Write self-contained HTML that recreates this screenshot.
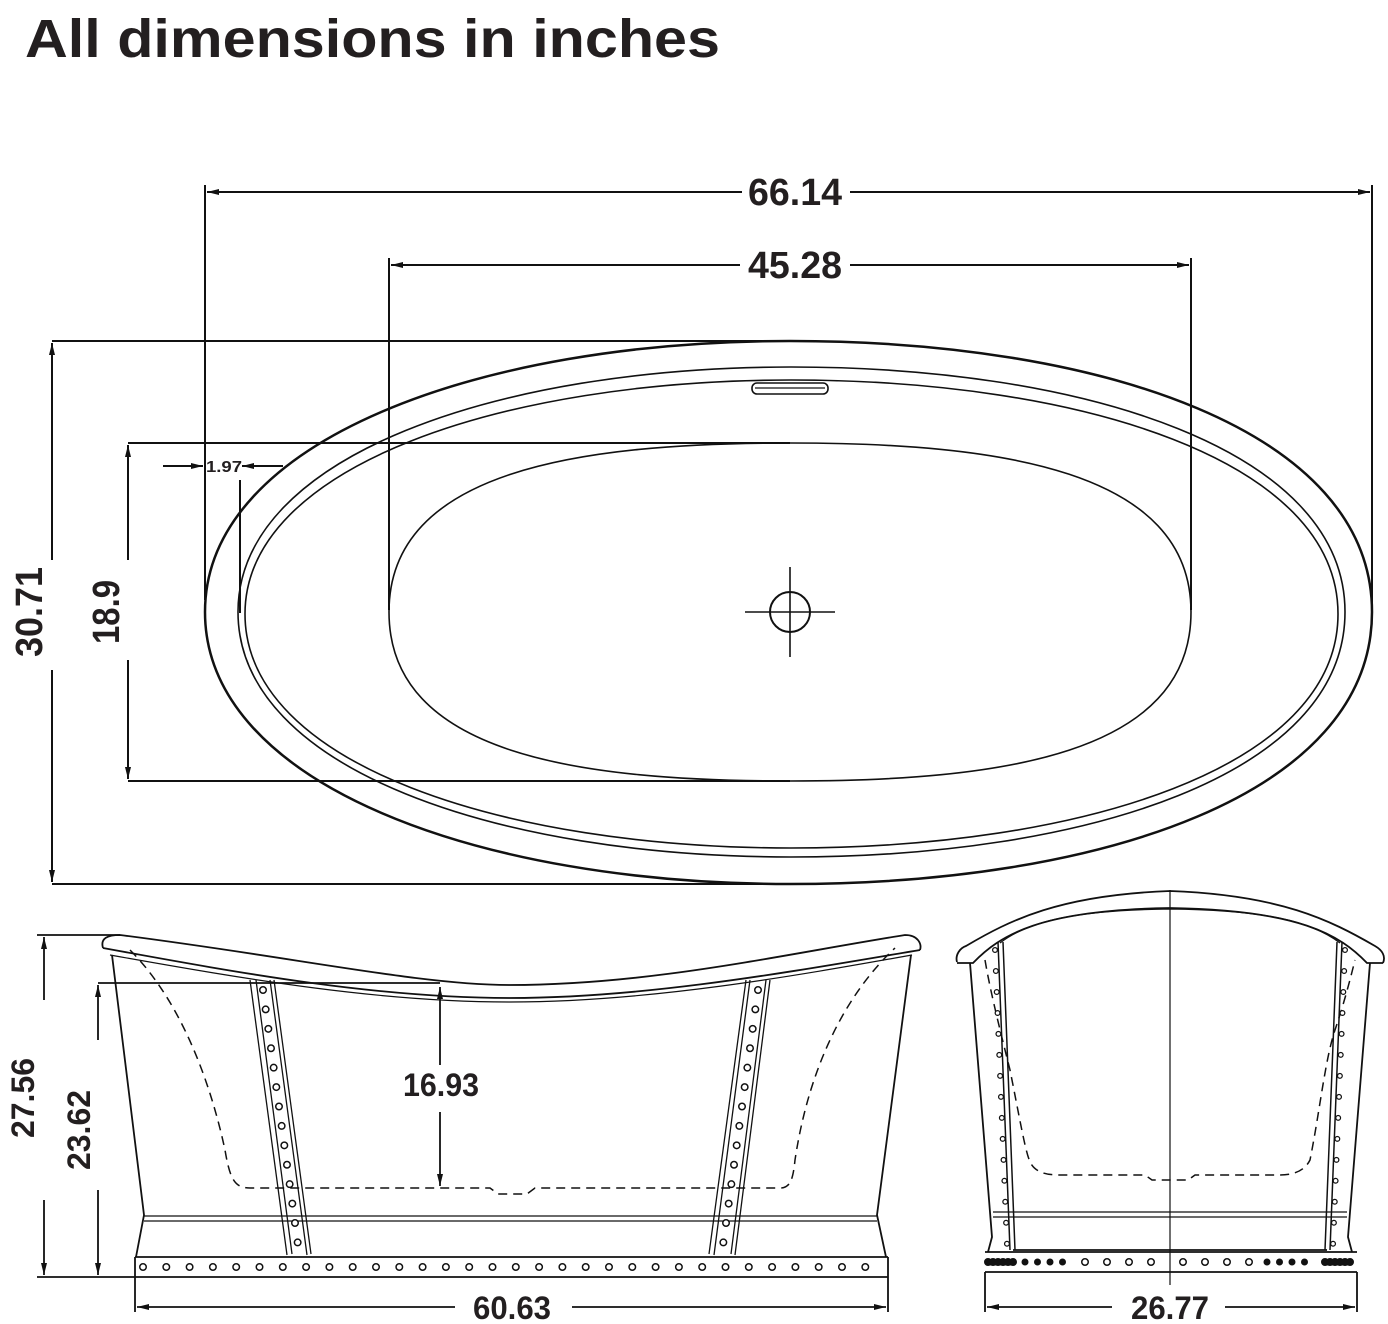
<!DOCTYPE html>
<html><head><meta charset="utf-8"><style>
html,body{margin:0;padding:0;background:#fff;}
svg{display:block;}
text{font-family:"Liberation Sans",sans-serif;font-weight:bold;fill:#231f20;}
</style></head><body>
<svg width="1388" height="1324" viewBox="0 0 1388 1324" xmlns="http://www.w3.org/2000/svg">
<defs>
<marker id="ar" viewBox="0 0 12 6" refX="12" refY="3" markerWidth="12" markerHeight="6" orient="auto" markerUnits="userSpaceOnUse"><path d="M0,0 L12,3 L0,6 z" fill="#111"/></marker>
</defs>
<text x="25" y="57" font-size="54" textLength="695" lengthAdjust="spacingAndGlyphs">All dimensions in inches</text>

<g stroke="#111" fill="none" stroke-width="2">
<line x1="205" y1="185" x2="205" y2="600"/>
<line x1="1372" y1="185" x2="1372" y2="612"/>
<line x1="742" y1="192" x2="207" y2="192" marker-end="url(#ar)"/>
<line x1="850" y1="192" x2="1370" y2="192" marker-end="url(#ar)"/>
<line x1="389" y1="258" x2="389" y2="610"/>
<line x1="1191" y1="258" x2="1191" y2="610"/>
<line x1="740" y1="265" x2="391" y2="265" marker-end="url(#ar)"/>
<line x1="850" y1="265" x2="1189" y2="265" marker-end="url(#ar)"/>
<line x1="52" y1="341" x2="790" y2="341"/>
<line x1="52" y1="884" x2="790" y2="884"/>
<line x1="52" y1="560" x2="52" y2="343" marker-end="url(#ar)"/>
<line x1="52" y1="670" x2="52" y2="882" marker-end="url(#ar)"/>
<line x1="128" y1="443" x2="790" y2="443"/>
<line x1="128" y1="781" x2="790" y2="781"/>
<line x1="128" y1="560" x2="128" y2="445" marker-end="url(#ar)"/>
<line x1="128" y1="660" x2="128" y2="779" marker-end="url(#ar)"/>
<line x1="163" y1="466" x2="203" y2="466" marker-end="url(#ar)"/>
<line x1="283" y1="466" x2="242" y2="466" marker-end="url(#ar)"/>
<line x1="240" y1="480" x2="240" y2="613"/>
<path d="M205,612 C205,440 480,341 790,341 C1100,341 1372,430 1372,612 C1372,795 1100,884 790,884 C480,884 205,785 205,612 Z" stroke-width="2.5"/>
<path d="M238,612 C238,455 500,367 791,367 C1085,367 1345,450 1345,612 C1345,775 1085,857 791,857 C500,857 238,770 238,612 Z" stroke-width="1.6"/>
<path d="M245,614 C245,465 505,380 791,380 C1080,380 1338,460 1338,614 C1338,768 1080,848 791,848 C505,848 245,765 245,614 Z" stroke-width="1.6"/>
<path d="M790,443 C1000,443 1191,470 1191,612 C1191,755 1000,781 790,781 C580,781 389,755 389,612 C389,470 580,443 790,443 Z" stroke-width="1.6"/>
<rect x="752" y="383" width="76" height="11" rx="5" stroke-width="1.6"/>
<line x1="755" y1="388" x2="825" y2="388" stroke-width="1.2"/>
<circle cx="790" cy="612" r="20"/>
<line x1="745" y1="612" x2="835" y2="612" stroke-width="1.6"/>
<line x1="790" y1="567" x2="790" y2="657" stroke-width="1.6"/>
</g>
<g transform="translate(42,612) rotate(-90)"><text x="0" y="0" font-size="38" text-anchor="middle" textLength="90" lengthAdjust="spacingAndGlyphs">30.71</text></g>
<g transform="translate(119,612) rotate(-90)"><text x="0" y="0" font-size="38" text-anchor="middle" textLength="64" lengthAdjust="spacingAndGlyphs">18.9</text></g>
<text x="795" y="205" font-size="38" text-anchor="middle" textLength="94" lengthAdjust="spacingAndGlyphs">66.14</text>
<text x="795" y="278" font-size="38" text-anchor="middle" textLength="94" lengthAdjust="spacingAndGlyphs">45.28</text>
<text x="224" y="472" font-size="16" text-anchor="middle" textLength="36" lengthAdjust="spacingAndGlyphs">1.97</text>

<g stroke="#111" fill="none" stroke-width="1.8">
<path d="M103,948 C100,938 108,935 120,935 C300,958 420,985 510,985 C650,985 780,955 905,935 C918,935 922,944 920,950"/>
<path d="M103,948 C250,975 380,998 510,998 C650,998 800,970 920,950"/>
<path d="M110,955 C250,980 380,1002 510,1002 C650,1002 800,975 912,955" stroke-width="1.2"/>
<path d="M112,955 L144,1215 L136,1257"/>
<path d="M911,955 L877,1215 L886,1257"/>
<line x1="135" y1="1257" x2="888" y2="1257"/>
<line x1="135" y1="1277" x2="888" y2="1277"/>
<line x1="135" y1="1257" x2="135" y2="1277"/>
<line x1="888" y1="1257" x2="888" y2="1277"/>
<line x1="144" y1="1216" x2="877" y2="1216" stroke-width="1.2"/>
<line x1="144" y1="1221" x2="877" y2="1221" stroke-width="1.2"/>
<path d="M250,980 L287,1255 M256,980 L292,1254 M270,980 L307,1255 M274,980 L311,1254" stroke-width="1.3"/>
<path d="M770,980 L735,1255 M766,980 L731,1254 M750,980 L714,1255 M746,980 L709,1254" stroke-width="1.3"/>
<path d="M130,950 C180,1000 210,1080 225,1150 C230,1180 235,1188 250,1188 L490,1188 L498,1194 L527,1194 L535,1188 L780,1188 C790,1188 793,1180 795,1160 C810,1060 850,990 895,948" stroke-dasharray="9 6" stroke-width="1.5"/>
<line x1="37" y1="935" x2="120" y2="935"/>
<line x1="44" y1="1000" x2="44" y2="937" marker-end="url(#ar)"/>
<line x1="44" y1="1200" x2="44" y2="1275" marker-end="url(#ar)"/>
<line x1="37" y1="1277" x2="135" y2="1277"/>
<line x1="98" y1="983" x2="440" y2="983"/>
<line x1="98" y1="1040" x2="98" y2="985" marker-end="url(#ar)"/>
<line x1="98" y1="1190" x2="98" y2="1275" marker-end="url(#ar)"/>
<line x1="440" y1="1065" x2="440" y2="987" marker-end="url(#ar)"/>
<line x1="440" y1="1112" x2="440" y2="1186" marker-end="url(#ar)"/>
<line x1="135" y1="1277" x2="135" y2="1312"/>
<line x1="888" y1="1277" x2="888" y2="1312"/>
<line x1="455" y1="1307" x2="137" y2="1307" marker-end="url(#ar)"/>
<line x1="572" y1="1307" x2="886" y2="1307" marker-end="url(#ar)"/>
</g>
<g fill="none">
<path d="M143,1267 L880,1267" stroke="#111" stroke-width="8" stroke-linecap="round" stroke-dasharray="0 23.3"/>
<path d="M143,1267 L880,1267" stroke="#fff" stroke-width="5" stroke-linecap="round" stroke-dasharray="0 23.3"/>
<path d="M263,990 L298,1245" stroke="#111" stroke-width="8" stroke-linecap="round" stroke-dasharray="0 19.6"/>
<path d="M263,990 L298,1245" stroke="#fff" stroke-width="5" stroke-linecap="round" stroke-dasharray="0 19.6"/>
<path d="M758,990 L723,1245" stroke="#111" stroke-width="8" stroke-linecap="round" stroke-dasharray="0 19.6"/>
<path d="M758,990 L723,1245" stroke="#fff" stroke-width="5" stroke-linecap="round" stroke-dasharray="0 19.6"/>
</g>
<g transform="translate(90,1130) rotate(-90)"><text font-size="32" text-anchor="middle" textLength="80" lengthAdjust="spacingAndGlyphs">23.62</text></g>
<g transform="translate(34,1098) rotate(-90)"><text font-size="32" text-anchor="middle" textLength="80" lengthAdjust="spacingAndGlyphs">27.56</text></g>
<text x="441" y="1096" font-size="32" text-anchor="middle" textLength="76" lengthAdjust="spacingAndGlyphs">16.93</text>
<text x="512" y="1319" font-size="32" text-anchor="middle" textLength="78" lengthAdjust="spacingAndGlyphs">60.63</text>

<g stroke="#111" fill="none" stroke-width="1.8">
<line x1="1170" y1="890" x2="1170" y2="1285" stroke-width="1.2"/>
<path d="M957,962 C955,955 960,948 966,946 C1010,920 1060,895 1170,891 C1280,895 1330,920 1375,946 C1382,950 1386,956 1383,963"/>
<path d="M957,963 L973,963 C1000,935 1040,910 1170,908 C1300,910 1340,935 1367,963 L1383,963"/>
<path d="M1000,943 C1030,920 1080,910 1170,909 M1340,943 C1310,920 1260,910 1170,909" stroke-width="1.2"/>
<path d="M970,963 L992,1237 L988,1252"/>
<path d="M1370,963 L1348,1237 L1352,1252"/>
<line x1="985" y1="1252" x2="1357" y2="1252"/>
<line x1="985" y1="1272" x2="1357" y2="1272"/>
<line x1="993" y1="1212" x2="1347" y2="1212" stroke-width="1.2"/>
<line x1="993" y1="1217" x2="1347" y2="1217" stroke-width="1.2"/>
<path d="M998,942 L1010,1250 M1003,942 L1015,1250" stroke-width="1.5"/>
<path d="M1342,942 L1330,1250 M1337,942 L1325,1250" stroke-width="1.5"/>
<line x1="1013" y1="1250" x2="1327" y2="1250"/>
<path d="M985,960 C990,990 1000,1030 1010,1070 C1020,1120 1025,1150 1030,1162 C1035,1172 1045,1175 1060,1175 L1145,1175 L1152,1180 L1188,1180 L1195,1175 L1280,1175 C1295,1175 1305,1170 1310,1160 C1320,1110 1325,1060 1335,1030 C1345,1000 1350,980 1355,960" stroke-dasharray="9 6" stroke-width="1.5"/>
<line x1="985" y1="1272" x2="985" y2="1312"/>
<line x1="1357" y1="1272" x2="1357" y2="1312"/>
<line x1="1112" y1="1307" x2="987" y2="1307" marker-end="url(#ar)"/>
<line x1="1225" y1="1307" x2="1355" y2="1307" marker-end="url(#ar)"/>
</g>
<g fill="none">
<path d="M988,1262 L1018,1262" stroke="#111" stroke-width="8" stroke-linecap="round" stroke-dasharray="0 5"/>
<path d="M1325,1262 L1355,1262" stroke="#111" stroke-width="8" stroke-linecap="round" stroke-dasharray="0 5"/>
<path d="M1025,1262 L1075,1262" stroke="#111" stroke-width="7" stroke-linecap="round" stroke-dasharray="0 12.5"/>
<path d="M1267,1262 L1317,1262" stroke="#111" stroke-width="7" stroke-linecap="round" stroke-dasharray="0 12.5"/>
<path d="M1085,1262 L1160,1262" stroke="#111" stroke-width="8" stroke-linecap="round" stroke-dasharray="0 22"/>
<path d="M1085,1262 L1160,1262" stroke="#fff" stroke-width="5" stroke-linecap="round" stroke-dasharray="0 22"/>
<path d="M1183,1262 L1260,1262" stroke="#111" stroke-width="8" stroke-linecap="round" stroke-dasharray="0 22"/>
<path d="M1183,1262 L1260,1262" stroke="#fff" stroke-width="5" stroke-linecap="round" stroke-dasharray="0 22"/>
<path d="M995,950 L1007,1245" stroke="#111" stroke-width="6" stroke-linecap="round" stroke-dasharray="0 21"/>
<path d="M995,950 L1007,1245" stroke="#fff" stroke-width="3.5" stroke-linecap="round" stroke-dasharray="0 21"/>
<path d="M1345,950 L1333,1245" stroke="#111" stroke-width="6" stroke-linecap="round" stroke-dasharray="0 21"/>
<path d="M1345,950 L1333,1245" stroke="#fff" stroke-width="3.5" stroke-linecap="round" stroke-dasharray="0 21"/>
</g>
<text x="1170" y="1319" font-size="32" text-anchor="middle" textLength="78" lengthAdjust="spacingAndGlyphs">26.77</text>
</svg>
</body></html>
